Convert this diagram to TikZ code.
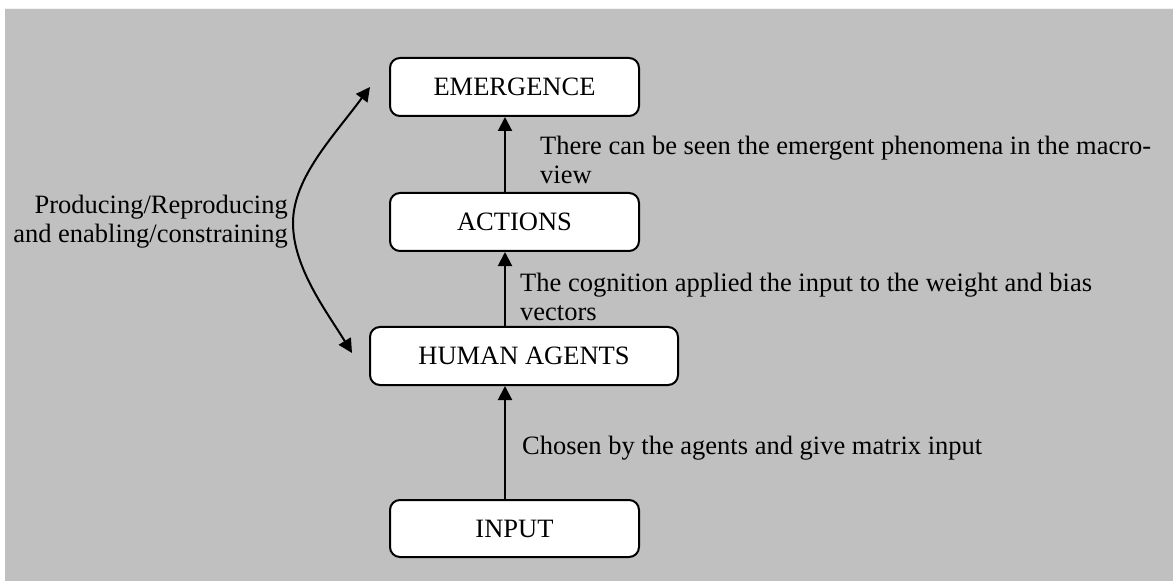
\documentclass[tikz,border=0pt]{standalone}
\usepackage{fontspec}
\setmainfont{Liberation Serif}
\usetikzlibrary{arrows.meta}
\definecolor{bggray}{HTML}{C0C0C0}
\tikzset{
  stagebox/.style={draw=black, line width=2bp, fill=white, rounded corners=10bp,
    minimum height=58bp, inner sep=0pt, font=\fontsize{26.5bp}{29bp}\selectfont},
  lbl/.style={inner sep=0pt, align=left, font=\fontsize{26.5bp}{29bp}\selectfont},
  arr/.style={line width=2bp, -{Triangle[length=14bp,width=14bp]}},
  darr/.style={line width=2bp, {Triangle[length=14bp,width=14bp]}-{Triangle[length=14bp,width=14bp]}}
}
\begin{document}
\begin{tikzpicture}[x=1bp,y=-1bp]
\useasboundingbox (0,0) rectangle (1173,581);
\fill[bggray] (5,8) rectangle (1173,581);
\draw[white!90!gray, line width=1bp] (5,8.5) -- (1173,8.5);

\node[stagebox, minimum width=249bp] (emergence) at (514.5,87) {EMERGENCE};
\node[stagebox, minimum width=249bp] (actions) at (514.5,222) {ACTIONS};
\node[stagebox, minimum width=308bp] (human) at (524,356) {HUMAN AGENTS};
\node[stagebox, minimum width=249bp, minimum height=57bp] (input) at (514.5,528.5) {INPUT};

\coordinate (ax) at (505,0);
\draw[arr] (ax |- input.north) -- (ax |- human.south);
\draw[arr] (ax |- human.north) -- (ax |- actions.south);
\draw[arr] (ax |- actions.north) -- (ax |- emergence.south);

\coordinate (cbot) at (352,353);
\coordinate (cmid) at (293,223);
\coordinate (ctop) at (370,87);
\draw[darr] (cbot) .. controls (327,312) and (293,268) .. (cmid)
                   .. controls (293,178) and (333,137) .. (ctop);

\node[lbl, anchor=west] (l1) at (540,160) {There can be seen the emergent phenomena in the macro-\\view};
\node[lbl, anchor=west] (l2) at (520,297) {The cognition applied the input to the weight and bias\\vectors};
\node[lbl, anchor=west] (l3) at (522,448) {Chosen by the agents and give matrix input};
\node[lbl, anchor=east, align=right] (l4) at (288,222) {Producing/Reproducing\\and enabling/constraining};
\end{tikzpicture}
\end{document}
